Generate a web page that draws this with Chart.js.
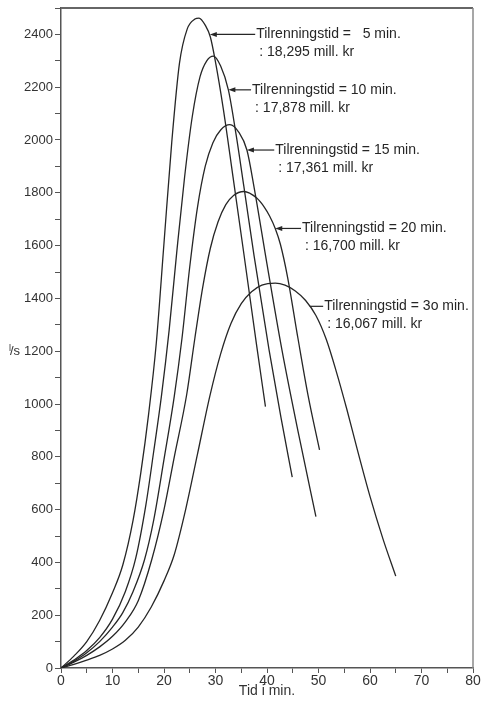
<!DOCTYPE html>
<html>
<head>
<meta charset="utf-8">
<script src="https://cdn.jsdelivr.net/npm/chart.js@4/dist/chart.umd.min.js"></script>
<style>
    body { margin: 0; background: #fff; }
    #wrap { width: 483px; height: 703px; }
</style>
</head>
<body>
<div id="wrap"><canvas id="flowChart" width="483" height="703"></canvas></div>
<script>
// Time (min) and flow (l/s) for each inflow time (Tilrenningstid)
const t05 = [0, 2.5, 5, 7.5, 10, 12, 14, 15.5, 17, 18.5, 20, 21.5, 23, 24.5, 26, 26.8, 28, 29, 30, 31.5, 33.4, 35.5, 38, 39.7];
const q05 = [0, 45, 100, 180, 285, 390, 560, 740, 960, 1230, 1610, 1990, 2290, 2420, 2458, 2462, 2435, 2390, 2295, 2120, 1860, 1570, 1220, 990];

const t10 = [0, 2.5, 5, 7.5, 10, 12.5, 14.5, 16.5, 18, 19.5, 21, 22.5, 24, 25.5, 27, 28.3, 29.6, 31, 32.5, 34, 35.5, 37.5, 40.4, 42.7, 44.9];
const q10 = [0, 30, 66, 115, 185, 290, 415, 620, 820, 1030, 1280, 1580, 1860, 2090, 2240, 2300, 2318, 2280, 2190, 2020, 1825, 1560, 1205, 950, 723];

const t15 = [0, 2.5, 5, 7.5, 10, 12, 14, 16.2, 18, 20, 22, 23.5, 25, 26.5, 28, 29.5, 31, 32.8, 34.5, 36.1, 37.5, 40, 42.9, 46.2, 49.5];
const q15 = [0, 26, 58, 100, 155, 210, 290, 409, 560, 790, 1030, 1250, 1520, 1745, 1900, 1990, 2038, 2058, 2030, 1962, 1820, 1530, 1205, 880, 573];

const t20 = [0, 2.5, 5, 7.5, 10, 12.5, 15, 17.6, 20, 22, 24.4, 26, 27.5, 29, 30.5, 32, 33.5, 35.5, 38, 39.5, 40.5, 41.6, 42.6, 44, 46, 48, 50.2];
const q20 = [0, 22, 48, 80, 120, 175, 255, 409, 600, 800, 1035, 1250, 1440, 1590, 1690, 1755, 1790, 1805, 1780, 1745, 1712, 1665, 1605, 1480, 1250, 1030, 826];

const t30 = [0, 2.5, 5, 7.5, 10, 12.5, 15, 17.5, 20, 22, 24.2, 26.5, 28.9, 31, 33, 35, 37, 39, 41.6, 43.5, 45.5, 47.5, 49.5, 51.5, 53.5, 55.5, 57.5, 60, 62.5, 65];
const q30 = [0, 14, 30, 48, 72, 105, 155, 230, 330, 430, 600, 810, 1030, 1190, 1305, 1380, 1425, 1450, 1458, 1450, 1428, 1392, 1335, 1245, 1120, 980, 830, 650, 490, 348];

const seriesNames = ['5 min', '10 min', '15 min', '20 min', '30 min'];

// Curve labels: text, cost line, arrow tip (t, q) and where the text starts (t)
const noteTexts = ['Tilrenningstid =   5 min.', 'Tilrenningstid = 10 min.', 'Tilrenningstid = 15 min.', 'Tilrenningstid = 20 min.', 'Tilrenningstid = 3o min.'];
const noteCosts = [': 18,295 mill. kr', ': 17,878 mill. kr', ': 17,361 mill. kr', ': 16,700 mill. kr', ': 16,067 mill. kr'];
const noteTipT = [28.9, 32.5, 36.1, 41.6, 48.3];
const noteTipQ = [2400, 2190, 1962, 1665, 1370];
const noteTextT = [37.9, 37.1, 41.6, 46.8, 51.1];
const noteHasHead = [true, true, true, true, false];

const FONT = '"Liberation Sans", Arial, sans-serif';
const INK = '#262626';

function toPoints(ts, qs) {
    return ts.map((t, i) => ({ x: t, y: qs[i] }));
}

/** Frame, arrows with labels and axis titles */
const decorPlugin = {
    id: 'decor',
    afterDraw(chart) {
        const { ctx, chartArea: area, scales: { x, y } } = chart;
        ctx.save();

        // top and right frame lines
        ctx.strokeStyle = '#666';
        ctx.lineWidth = 2;
        ctx.beginPath();
        ctx.moveTo(area.left, area.top);
        ctx.lineTo(area.right, area.top);
        ctx.stroke();
        ctx.strokeStyle = '#8a8a8a';
        ctx.lineWidth = 1.5;
        ctx.beginPath();
        ctx.moveTo(area.right, area.top);
        ctx.lineTo(area.right, area.bottom);
        ctx.stroke();

        // curve labels
        ctx.font = '14px ' + FONT;
        ctx.textAlign = 'left';
        ctx.textBaseline = 'middle';
        noteTexts.forEach((txt, i) => {
            const tx = x.getPixelForValue(noteTipT[i]);
            const ty = y.getPixelForValue(noteTipQ[i]);
            const sx = x.getPixelForValue(noteTextT[i]);

            ctx.strokeStyle = INK;
            ctx.lineWidth = 1.2;
            ctx.beginPath();
            ctx.moveTo(tx + (noteHasHead[i] ? 4 : 0), ty);
            ctx.lineTo(sx - 1, ty);
            ctx.stroke();
            if (noteHasHead[i]) {
                ctx.fillStyle = INK;
                ctx.beginPath();
                ctx.moveTo(tx, ty);
                ctx.lineTo(tx + 7, ty - 2.5);
                ctx.lineTo(tx + 7, ty + 2.5);
                ctx.closePath();
                ctx.fill();
            }

            ctx.fillStyle = INK;
            ctx.fillText(txt, sx, ty);
            ctx.fillText(noteCosts[i], sx + 3, ty + 18);
        });

        // x axis title
        ctx.fillStyle = '#333';
        ctx.textAlign = 'center';
        ctx.fillText('Tid i min.', (area.left + area.right) / 2, area.bottom + 23);

        // y axis unit, small raised l then "/s"
        const uy = y.getPixelForValue(1200);
        ctx.textAlign = 'left';
        ctx.font = '9px ' + FONT;
        ctx.fillText('l', 9, uy - 3);
        ctx.font = '13px ' + FONT;
        ctx.fillText('/s', 10, uy);

        ctx.restore();
    }
};

function renderFlowChart() {
    const ctx = document.getElementById('flowChart').getContext('2d');
    const curves = [[t05, q05], [t10, q10], [t15, q15], [t20, q20], [t30, q30]];

    new Chart(ctx, {
        type: 'line',
        data: {
            datasets: curves.map((c, i) => ({
                label: seriesNames[i],
                data: toPoints(c[0], c[1]),
                borderColor: INK,
                borderWidth: 1.3,
                pointRadius: 0,
                fill: false,
                cubicInterpolationMode: 'monotone'
            }))
        },
        options: {
            responsive: false,
            animation: false,
            layout: { padding: { top: 8, right: 10, left: 0, bottom: 0 } },
            plugins: {
                legend: { display: false },
                tooltip: { enabled: false }
            },
            scales: {
                x: {
                    type: 'linear',
                    min: 0,
                    max: 80,
                    ticks: {
                        stepSize: 5,
                        autoSkip: false,
                        maxRotation: 0,
                        padding: 0,
                        color: '#333',
                        font: { family: FONT, size: 14 },
                        callback: v => (v % 10 === 0 ? String(v) : '')
                    },
                    grid: { drawOnChartArea: false, tickLength: 5, color: '#555' },
                    border: { color: '#555', width: 1.5 },
                    afterFit(s) {
                        s.height = 35;
                        s.paddingLeft = 0;
                        s.paddingRight = 0;
                    }
                },
                y: {
                    type: 'linear',
                    min: 0,
                    max: 2500,
                    ticks: {
                        stepSize: 100,
                        autoSkip: false,
                        padding: 2,
                        color: '#333',
                        font: { family: FONT, size: 13 },
                        callback: v => (v % 200 === 0 && v < 2500 ? String(v) : '')
                    },
                    grid: { drawOnChartArea: false, tickLength: 6, color: '#555' },
                    border: { color: '#555', width: 1.5 },
                    afterFit(s) {
                        s.width = 61;
                        s.paddingTop = 0;
                        s.paddingBottom = 0;
                    }
                }
            }
        },
        plugins: [decorPlugin]
    });
}

renderFlowChart();
</script>
</body>
</html>
